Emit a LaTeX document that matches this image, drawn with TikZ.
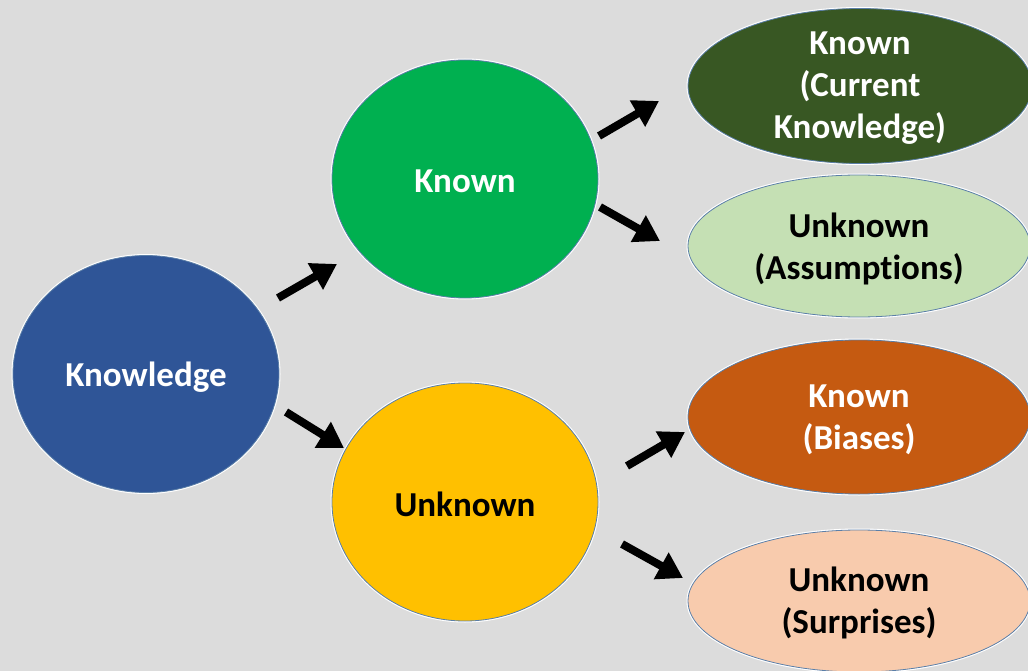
\documentclass[tikz,border=0pt]{standalone}
\usepackage{fontspec}
\setmainfont{Carlito}[Ligatures=NoCommon]
\usetikzlibrary{shapes.geometric,arrows.meta}
\definecolor{bg}{HTML}{DCDCDC}
\definecolor{kblue}{HTML}{2F5597}
\definecolor{kgreen}{HTML}{00B050}
\definecolor{kyellow}{HTML}{FFC000}
\definecolor{kdgreen}{HTML}{385723}
\definecolor{klgreen}{HTML}{C5E0B4}
\definecolor{korange}{HTML}{C55A11}
\definecolor{kpeach}{HTML}{F8CBAD}
\definecolor{kline}{HTML}{5B7FA8}
\tikzset{
  blob/.style={ellipse, draw=kline, line width=0.8pt, inner sep=0pt,
    preaction={draw=white, line width=3pt}},
  txt/.style={inner sep=0pt, align=center, font=\fontsize{35}{42}\selectfont\bfseries},
  arr/.style={line width=8pt, -{Triangle[length=25pt,width=29pt]}, black}
}
\begin{document}
\begin{tikzpicture}[x=1pt,y=-1pt]
\fill[bg] (0,0) rectangle (1028,671);
\useasboundingbox (0,0) rectangle (1028,671);
\node[blob, fill=kblue, minimum width=266pt, minimum height=237pt] (kn) at (146,374) {};
\node[blob, fill=kgreen, minimum width=266pt, minimum height=238pt] (known) at (465,179) {};
\node[blob, fill=kyellow, minimum width=266pt, minimum height=238pt] (unknown) at (465,502) {};
\node[blob, fill=kdgreen, minimum width=344pt, minimum height=155pt] (kk) at (860,86) {};
\node[blob, fill=klgreen, minimum width=342pt, minimum height=142pt] (ku) at (859,246) {};
\node[blob, fill=korange, minimum width=342pt, minimum height=154pt] (uk) at (859,417) {};
\node[blob, fill=kpeach, minimum width=342pt, minimum height=142pt] (uu) at (859,601) {};
\node[txt, text=white] (knt) at ([yshift=-3pt]kn.center) {Knowledge};
\node[txt, text=white] (knownt) at ([yshift=-2pt]known.center) {Known};
\node[txt, text=black] (unknownt) at ([yshift=-2pt]unknown.center) {Unknown};
\node[txt, text=white] (kkt) at ([yshift=-2pt]kk.center) {Known\\(Current\\Knowledge)};
\node[txt, text=black] (kut) at ([yshift=-3pt]ku.center) {Unknown\\(Assumptions)};
\node[txt, text=white] (ukt) at ([yshift=-3pt]uk.center) {Known\\(Biases)};
\node[txt, text=black] (uut) at ([yshift=-2pt]uu.center) {Unknown\\(Surprises)};
\coordinate (a1s) at (278,298); \coordinate (a1e) at (337,264);
\coordinate (a2s) at (286,412); \coordinate (a2e) at (344,448);
\coordinate (a3s) at (599,136); \coordinate (a3e) at (659,101);
\coordinate (a4s) at (600,207); \coordinate (a4e) at (660,241);
\coordinate (a5s) at (627,466); \coordinate (a5e) at (685,432);
\coordinate (a6s) at (622,544); \coordinate (a6e) at (683,578);
\draw[arr] (a1s) -- (a1e);
\draw[arr] (a2s) -- (a2e);
\draw[arr] (a3s) -- (a3e);
\draw[arr] (a4s) -- (a4e);
\draw[arr] (a5s) -- (a5e);
\draw[arr] (a6s) -- (a6e);
\end{tikzpicture}
\end{document}
